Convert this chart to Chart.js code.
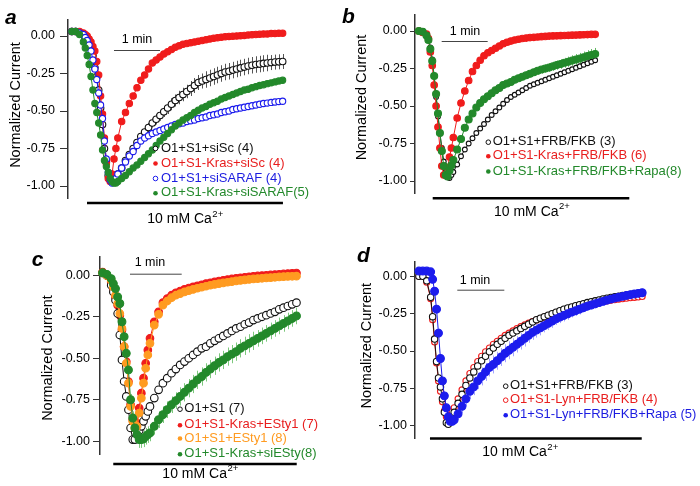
<!DOCTYPE html>
<html>
<head>
<meta charset="utf-8">
<script src="https://cdn.jsdelivr.net/npm/chart.js@4.4.0/dist/chart.umd.min.js"></script>
<style>
  body { margin: 0; background: #fff; }
  #wrap { position: relative; width: 700px; height: 486px; overflow: hidden; }
  #wrap canvas { position: absolute; left: 0; top: 0; }
</style>
</head>
<body>
<div id="wrap">
  <canvas id="pa" width="700" height="486"></canvas>
  <canvas id="pb" width="700" height="486"></canvas>
  <canvas id="pc" width="700" height="486"></canvas>
  <canvas id="pd" width="700" height="486"></canvas>
</div>
<script>
// ---- data (time in s, current normalized to peak) ----
const yTicks = [-1, -0.75, -0.5, -0.25, 0];

// panel a
const timeA = [5,10,15,20,22.5,25,27.5,30,32.5,35,37.5,40,42.5,45,47.5,50,52.5,55,57.5,60,62.5,65,70,75,80,85,90,95,100,105,110,115,120,125,130,135,140,145,150,155,160,165,170,175,180,185,190,195,200,205,210,215,220,225,230,235,240,245,250,255,260,265,270,275,280];
const aSiSc = [0.03,0.03,0.02,0.01,0.0,-0.02,-0.05,-0.08,-0.13,-0.21,-0.27,-0.36,-0.48,-0.59,-0.75,-0.84,-0.93,-0.96,-0.97,-0.96,-0.94,-0.92,-0.88,-0.83,-0.79,-0.75,-0.71,-0.67,-0.64,-0.61,-0.58,-0.555,-0.53,-0.505,-0.48,-0.455,-0.43,-0.41,-0.39,-0.37,-0.35,-0.33,-0.31,-0.30,-0.29,-0.28,-0.27,-0.26,-0.25,-0.24,-0.235,-0.227,-0.22,-0.213,-0.207,-0.20,-0.195,-0.19,-0.187,-0.183,-0.18,-0.177,-0.174,-0.172,-0.17];
const aSiScErr = [0.01,0.01,0.01,0.01,0.01,0.01,0.015,0.015,0.02,0.02,0.025,0.025,0.03,0.03,0.03,0.03,0.03,0.03,0.03,0.025,0.025,0.02,0.02,0.02,0.02,0.025,0.025,0.025,0.03,0.03,0.03,0.035,0.035,0.035,0.04,0.04,0.04,0.045,0.045,0.045,0.05,0.05,0.05,0.05,0.055,0.055,0.055,0.055,0.055,0.055,0.055,0.055,0.055,0.055,0.055,0.055,0.055,0.055,0.055,0.055,0.055,0.05,0.05,0.05,0.05];
const aKrasSiSc = [0.03,0.03,0.03,0.02,0.01,0.0,-0.02,-0.04,-0.07,-0.10,-0.17,-0.26,-0.40,-0.52,-0.68,-0.85,-0.95,-0.97,-0.92,-0.82,-0.75,-0.68,-0.57,-0.51,-0.45,-0.40,-0.345,-0.295,-0.26,-0.22,-0.18,-0.16,-0.14,-0.12,-0.105,-0.09,-0.075,-0.065,-0.055,-0.05,-0.045,-0.04,-0.035,-0.03,-0.025,-0.02,-0.015,-0.012,-0.008,-0.005,-0.003,-0.001,0.0,0.002,0.004,0.006,0.008,0.01,0.011,0.013,0.014,0.016,0.017,0.018,0.019];
const aSiSARAF = [0.03,0.03,0.02,0.01,-0.01,-0.03,-0.06,-0.10,-0.16,-0.22,-0.29,-0.38,-0.46,-0.55,-0.70,-0.82,-0.91,-0.96,-0.98,-0.97,-0.95,-0.92,-0.88,-0.84,-0.80,-0.77,-0.73,-0.70,-0.68,-0.665,-0.65,-0.64,-0.63,-0.62,-0.61,-0.60,-0.59,-0.585,-0.58,-0.57,-0.565,-0.56,-0.55,-0.545,-0.54,-0.53,-0.525,-0.52,-0.51,-0.505,-0.50,-0.49,-0.485,-0.48,-0.475,-0.47,-0.465,-0.46,-0.455,-0.45,-0.447,-0.443,-0.44,-0.437,-0.435];
const aKrasSiSARAF = [0.03,0.03,0.01,-0.04,-0.08,-0.13,-0.19,-0.27,-0.36,-0.45,-0.51,-0.58,-0.66,-0.76,-0.83,-0.87,-0.91,-0.95,-0.97,-0.98,-0.98,-0.97,-0.95,-0.93,-0.905,-0.88,-0.86,-0.835,-0.81,-0.785,-0.76,-0.73,-0.70,-0.675,-0.65,-0.625,-0.60,-0.58,-0.56,-0.545,-0.53,-0.51,-0.495,-0.48,-0.47,-0.455,-0.445,-0.435,-0.42,-0.41,-0.40,-0.39,-0.38,-0.37,-0.36,-0.355,-0.345,-0.338,-0.33,-0.325,-0.318,-0.312,-0.306,-0.30,-0.295];
const labelsA = ['O1+S1+siSc (4)', 'O1+S1-Kras+siSc (4)', 'O1+S1+siSARAF (4)', 'O1+S1-Kras+siSARAF(5)'];

// panel b
const timeB = [5,10,15,17.5,20,22.5,25,27.5,30,32.5,35,37.5,40,42.5,45,47.5,50,55,60,65,70,75,80,85,90,95,100,105,110,115,120,125,130,135,140,145,150,155,160,165,170,175,180,185,190,195,200,205,210,215,220,225,230,235];
const bFrbFkb = [0.0,0.0,-0.02,-0.05,-0.11,-0.19,-0.30,-0.44,-0.57,-0.68,-0.78,-0.87,-0.94,-0.97,-0.98,-0.96,-0.94,-0.89,-0.835,-0.79,-0.75,-0.715,-0.68,-0.65,-0.62,-0.59,-0.56,-0.535,-0.51,-0.485,-0.46,-0.44,-0.425,-0.41,-0.395,-0.38,-0.365,-0.355,-0.345,-0.335,-0.325,-0.315,-0.305,-0.295,-0.285,-0.275,-0.265,-0.255,-0.245,-0.235,-0.225,-0.215,-0.205,-0.195];
const bKrasFrbFkb = [0.0,-0.01,-0.02,-0.05,-0.14,-0.23,-0.36,-0.50,-0.64,-0.78,-0.90,-0.96,-0.96,-0.91,-0.84,-0.78,-0.71,-0.58,-0.48,-0.40,-0.33,-0.27,-0.23,-0.195,-0.165,-0.145,-0.13,-0.115,-0.10,-0.085,-0.075,-0.067,-0.06,-0.055,-0.05,-0.047,-0.044,-0.042,-0.04,-0.038,-0.036,-0.034,-0.033,-0.032,-0.031,-0.03,-0.029,-0.028,-0.027,-0.026,-0.025,-0.024,-0.023,-0.022];
const bKrasRapa = [0.0,-0.005,-0.03,-0.06,-0.12,-0.20,-0.30,-0.42,-0.55,-0.68,-0.80,-0.90,-0.96,-0.97,-0.93,-0.895,-0.86,-0.79,-0.72,-0.645,-0.59,-0.55,-0.51,-0.48,-0.455,-0.435,-0.415,-0.395,-0.38,-0.36,-0.35,-0.34,-0.325,-0.315,-0.305,-0.295,-0.285,-0.275,-0.265,-0.257,-0.25,-0.243,-0.235,-0.227,-0.22,-0.212,-0.205,-0.197,-0.19,-0.183,-0.175,-0.167,-0.16,-0.153];
const bKrasRapaErr = [0.01,0.01,0.01,0.01,0.015,0.015,0.02,0.02,0.02,0.025,0.025,0.025,0.025,0.02,0.02,0.02,0.02,0.02,0.02,0.02,0.02,0.02,0.02,0.02,0.02,0.02,0.02,0.02,0.02,0.02,0.02,0.02,0.022,0.022,0.024,0.024,0.025,0.025,0.026,0.027,0.028,0.029,0.03,0.031,0.032,0.033,0.034,0.035,0.036,0.037,0.038,0.039,0.04,0.04];
const labelsB = ['O1+S1+FRB/FKB (3)', 'O1+S1-Kras+FRB/FKB (6)', 'O1+S1-Kras+FRB/FKB+Rapa(8)'];

// panel c
const timeC = [3,8,13,15.5,18,20.5,23,25.5,28,30.5,33,35.5,38,40.5,43,45.5,48,50.5,53,55.5,58,63,68,73,78,83,88,93,98,103,108,113,118,123,128,133,138,143,148,153,158,163,168,173,178,183,188,193,198,203,208,213,218,223,228];
const cS1 = [0.015,0.0,-0.06,-0.10,-0.15,-0.23,-0.36,-0.51,-0.64,-0.73,-0.81,-0.92,-0.99,-0.99,-0.96,-0.935,-0.91,-0.88,-0.85,-0.82,-0.79,-0.74,-0.69,-0.65,-0.62,-0.59,-0.565,-0.54,-0.52,-0.50,-0.48,-0.46,-0.44,-0.43,-0.41,-0.395,-0.38,-0.365,-0.35,-0.335,-0.32,-0.31,-0.295,-0.285,-0.27,-0.26,-0.25,-0.24,-0.23,-0.22,-0.205,-0.195,-0.185,-0.175,-0.165];
const cKrasESty = [0.02,0.0,-0.04,-0.08,-0.13,-0.18,-0.24,-0.33,-0.43,-0.52,-0.64,-0.78,-0.87,-0.91,-0.89,-0.80,-0.71,-0.62,-0.53,-0.45,-0.38,-0.28,-0.22,-0.165,-0.14,-0.12,-0.105,-0.095,-0.085,-0.077,-0.07,-0.063,-0.057,-0.05,-0.045,-0.04,-0.035,-0.03,-0.026,-0.022,-0.018,-0.015,-0.012,-0.009,-0.006,-0.004,-0.002,0.0,0.002,0.004,0.006,0.008,0.01,0.012,0.014];
const cESty = [0.015,0.0,-0.03,-0.07,-0.12,-0.17,-0.23,-0.32,-0.43,-0.53,-0.65,-0.79,-0.88,-0.92,-0.91,-0.83,-0.74,-0.65,-0.56,-0.48,-0.41,-0.30,-0.235,-0.18,-0.155,-0.135,-0.12,-0.11,-0.10,-0.092,-0.085,-0.078,-0.072,-0.066,-0.06,-0.055,-0.05,-0.046,-0.042,-0.038,-0.034,-0.031,-0.028,-0.025,-0.022,-0.02,-0.018,-0.016,-0.014,-0.012,-0.01,-0.008,-0.007,-0.006,-0.005];
const cKrasSiESty = [0.015,0.005,-0.02,-0.05,-0.08,-0.13,-0.17,-0.28,-0.37,-0.47,-0.57,-0.75,-0.86,-0.92,-0.96,-0.99,-0.99,-0.985,-0.97,-0.96,-0.95,-0.91,-0.87,-0.84,-0.81,-0.78,-0.755,-0.73,-0.705,-0.68,-0.655,-0.63,-0.61,-0.585,-0.565,-0.545,-0.525,-0.51,-0.49,-0.475,-0.46,-0.44,-0.425,-0.41,-0.395,-0.38,-0.365,-0.35,-0.335,-0.32,-0.305,-0.29,-0.275,-0.26,-0.245];
const cKrasSiEStyErr = [0.02,0.02,0.02,0.02,0.02,0.02,0.02,0.025,0.025,0.03,0.03,0.035,0.04,0.045,0.05,0.05,0.05,0.05,0.05,0.05,0.05,0.05,0.05,0.05,0.05,0.05,0.05,0.055,0.055,0.055,0.055,0.055,0.055,0.055,0.055,0.055,0.055,0.055,0.055,0.055,0.055,0.055,0.055,0.055,0.055,0.05,0.05,0.05,0.05,0.05,0.05,0.05,0.05,0.05,0.05];
const labelsC = ['O1+S1 (7)', 'O1+S1-Kras+ESty1 (7)', 'O1+S1+ESty1 (8)', 'O1+S1-Kras+siESty(8)'];

// panel d
const timeD = [5,10,15,20,22.5,25,27.5,30,32.5,35,37.5,40,42.5,45,47.5,50,55,60,65,70,75,80,85,90,95,100,105,110,115,120,125,130,135,140,145,150,155,160,165,170,175,180,185,190,195,200,205,210,215,220,225,230,235,240,245,250,255,260,265,270,275,280,285,290];
const dFrbFkb = [0.0,0.0,-0.03,-0.14,-0.27,-0.42,-0.57,-0.68,-0.74,-0.82,-0.91,-0.98,-0.99,-0.97,-0.94,-0.91,-0.85,-0.79,-0.73,-0.68,-0.64,-0.60,-0.565,-0.535,-0.505,-0.48,-0.455,-0.435,-0.415,-0.395,-0.38,-0.365,-0.35,-0.335,-0.32,-0.305,-0.29,-0.28,-0.27,-0.26,-0.25,-0.24,-0.23,-0.22,-0.212,-0.205,-0.197,-0.19,-0.183,-0.176,-0.17,-0.164,-0.158,-0.152,-0.147,-0.142,-0.137,-0.133,-0.129,-0.125,-0.121,-0.117,-0.114,-0.111];
const dLynFrbFkb = [0.0,0.0,-0.04,-0.15,-0.29,-0.44,-0.58,-0.70,-0.77,-0.84,-0.90,-0.94,-0.94,-0.93,-0.905,-0.88,-0.82,-0.76,-0.70,-0.65,-0.61,-0.57,-0.535,-0.505,-0.48,-0.455,-0.435,-0.415,-0.395,-0.38,-0.365,-0.35,-0.337,-0.325,-0.313,-0.302,-0.292,-0.282,-0.272,-0.263,-0.254,-0.245,-0.237,-0.229,-0.222,-0.215,-0.208,-0.202,-0.196,-0.19,-0.184,-0.179,-0.174,-0.169,-0.165,-0.161,-0.157,-0.153,-0.15,-0.147,-0.144,-0.141,-0.138,-0.135];
const dLynRapa = [0.035,0.035,0.035,0.03,-0.02,-0.10,-0.22,-0.38,-0.55,-0.70,-0.80,-0.88,-0.94,-0.97,-0.97,-0.96,-0.92,-0.87,-0.82,-0.77,-0.74,-0.70,-0.67,-0.64,-0.61,-0.59,-0.565,-0.54,-0.515,-0.495,-0.475,-0.455,-0.435,-0.415,-0.395,-0.375,-0.36,-0.345,-0.33,-0.315,-0.30,-0.285,-0.273,-0.262,-0.251,-0.24,-0.23,-0.22,-0.21,-0.20,-0.192,-0.184,-0.176,-0.168,-0.16,-0.153,-0.146,-0.14,-0.134,-0.128,-0.123,-0.118,-0.114,-0.11];
const dLynRapaErr = [0.01,0.01,0.01,0.01,0.02,0.02,0.02,0.03,0.03,0.03,0.03,0.03,0.03,0.03,0.03,0.035,0.04,0.045,0.05,0.05,0.055,0.055,0.06,0.06,0.06,0.06,0.06,0.06,0.06,0.06,0.06,0.055,0.055,0.055,0.05,0.05,0.05,0.05,0.045,0.045,0.045,0.04,0.04,0.04,0.04,0.035,0.035,0.035,0.03,0.03,0.03,0.03,0.025,0.025,0.025,0.025,0.02,0.02,0.02,0.02,0.02,0.02,0.02,0.02];
const labelsD = ['O1+S1+FRB/FKB (3)', 'O1+S1-Lyn+FRB/FKB (4)', 'O1+S1-Lyn+FRB/FKB+Rapa (5)'];

// ---- styles ----
const FONT = '"Liberation Sans", Arial, sans-serif';
const BLACK = '#111111', RED = '#f01c1c', BLUE = '#1c1ced', GREEN = '#23892b', ORANGE = '#ff9b21';

function series(time, vals, color, filled, r, order, err, errColor) {
  return {
    data: time.map((t, i) => ({ x: t, y: vals[i] })),
    borderColor: color,
    borderWidth: 1,
    pointRadius: r,
    pointBorderColor: color,
    pointBorderWidth: 1.1,
    pointBackgroundColor: filled ? color : '#ffffff',
    tension: 0,
    clip: false,
    order: order,
    err: err,
    errColor: errColor
  };
}

// SEM bars, drawn under the markers
const errBars = {
  id: 'errBars',
  beforeDatasetsDraw(chart) {
    const ctx = chart.ctx, xs = chart.scales.x, ys = chart.scales.y;
    ctx.save();
    ctx.lineWidth = 1;
    chart.data.datasets.forEach(ds => {
      if (!ds.err) return;
      ctx.strokeStyle = ds.errColor;
      ctx.beginPath();
      ds.data.forEach((p, i) => {
        const x = Math.round(xs.getPixelForValue(p.x)) + 0.5;
        ctx.moveTo(x, ys.getPixelForValue(p.y + ds.err[i]));
        ctx.lineTo(x, ys.getPixelForValue(p.y - ds.err[i]));
      });
      ctx.stroke();
    });
    ctx.restore();
  }
};

// annotations: panel letter, y title, 1 min bar, Ca2+ bar, legend
const deco = {
  id: 'deco',
  afterDraw(chart, args, o) {
    const ctx = chart.ctx, xs = chart.scales.x;
    ctx.save();
    ctx.fillStyle = '#000';
    ctx.textAlign = 'left';
    ctx.textBaseline = 'alphabetic';
    ctx.font = 'italic bold 21px ' + FONT;
    ctx.fillText(o.letter[0], o.letter[1], o.letter[2]);

    ctx.save();
    ctx.translate(o.title[0], o.title[1]);
    ctx.rotate(-Math.PI / 2);
    ctx.font = '14.5px ' + FONT;
    ctx.textAlign = 'center';
    ctx.textBaseline = 'middle';
    ctx.fillText('Normalized Current', 0, 0);
    ctx.restore();

    // 1 min scale bar
    ctx.strokeStyle = '#444';
    ctx.lineWidth = 1;
    ctx.beginPath();
    ctx.moveTo(xs.getPixelForValue(o.minBar[0]), o.minBar[2] + 0.5);
    ctx.lineTo(xs.getPixelForValue(o.minBar[1]), o.minBar[2] + 0.5);
    ctx.stroke();
    ctx.font = '12.5px ' + FONT;
    ctx.textAlign = 'center';
    ctx.textBaseline = 'middle';
    ctx.fillText('1 min', xs.getPixelForValue(o.minBar[3]), o.minBar[4]);

    // Ca2+ application bar
    ctx.strokeStyle = '#000';
    ctx.lineWidth = 2.5;
    ctx.beginPath();
    ctx.moveTo(xs.getPixelForValue(o.ca[0]), o.ca[2]);
    ctx.lineTo(xs.getPixelForValue(o.ca[1]), o.ca[2]);
    ctx.stroke();
    ctx.font = '14px ' + FONT;
    const main = '10 mM Ca';
    const wMain = ctx.measureText(main).width;
    ctx.font = '9.5px ' + FONT;
    const wSup = ctx.measureText('2+').width;
    const x0 = xs.getPixelForValue(o.ca[3]) - (wMain + wSup) / 2;
    ctx.textAlign = 'left';
    ctx.font = '14px ' + FONT;
    ctx.fillText(main, x0, o.ca[4]);
    ctx.font = '9.5px ' + FONT;
    ctx.fillText('2+', x0 + wMain + 0.5, o.ca[4] - 5);

    // legend
    ctx.font = '13px ' + FONT;
    ctx.textBaseline = 'middle';
    o.legend.rows.forEach((y, i) => {
      const it = o.legend.items[i];
      ctx.beginPath();
      ctx.arc(o.legend.mx, y + 0.5, 2.3, 0, Math.PI * 2);
      if (it.filled) {
        ctx.fillStyle = it.color;
        ctx.fill();
      } else {
        ctx.fillStyle = '#fff';
        ctx.fill();
        ctx.strokeStyle = it.color;
        ctx.lineWidth = 1;
        ctx.stroke();
      }
      ctx.fillStyle = it.text;
      ctx.fillText(it.label, o.legend.tx, y);
    });
    ctx.restore();
  }
};

function makePanel(id, p) {
  new Chart(document.getElementById(id), {
    type: 'line',
    data: { datasets: p.datasets },
    options: {
      responsive: false,
      animation: false,
      devicePixelRatio: 1,
      events: [],
      layout: { padding: p.padding },
      scales: {
        x: { type: 'linear', display: false, min: 0, max: p.xMax },
        y: {
          min: p.yMin,
          max: p.yMax,
          afterFit: s => { s.width = p.axisX; },
          afterBuildTicks: s => { s.ticks = yTicks.map(v => ({ value: v })); },
          border: { display: true, color: '#333', width: 1.5 },
          grid: { display: true, drawOnChartArea: false, drawTicks: true, tickLength: p.tickLen, color: '#333', lineWidth: 1 },
          ticks: { padding: p.tickPad, color: '#000', font: { family: FONT, size: 12.5 }, callback: v => v.toFixed(2) }
        }
      },
      plugins: { legend: { display: false }, tooltip: { enabled: false }, deco: p.deco }
    },
    plugins: [errBars, deco]
  });
}

makePanel('pa', {
  axisX: 68, padding: { left: 0, top: 20, right: 410, bottom: 288 },
  xMax: 289.6, yMin: -1.08, yMax: 0.1067, tickLen: 8, tickPad: 5,
  datasets: [
    series(timeA, aSiSc, BLACK, false, 3.3, 4, aSiScErr, '#555'),
    series(timeA, aKrasSiSc, RED, true, 3.2, 3),
    series(timeA, aSiSARAF, BLUE, false, 3.1, 2),
    series(timeA, aKrasSiSARAF, GREEN, true, 3.1, 1)
  ],
  deco: {
    letter: ['a', 5, 23.5], title: [15.7, 105],
    minBar: [60, 120, 50, 90, 40], ca: [24.8, 280.4, 203, 152.6, 219],
    legend: { mx: 155.5, tx: 161, rows: [148, 163, 178, 192.7], items: [
      { label: labelsA[0], color: BLACK, text: '#111', filled: false },
      { label: labelsA[1], color: RED, text: '#e81e1e', filled: true },
      { label: labelsA[2], color: BLUE, text: '#1c1ce0', filled: false },
      { label: labelsA[3], color: GREEN, text: '#23892b', filled: true }
    ] }
  }
});

makePanel('pb', {
  axisX: 415, padding: { left: 0, top: 15, right: 100, bottom: 293 },
  xMax: 241.3, yMin: -1.08, yMax: 0.1067, tickLen: 5, tickPad: 3,
  datasets: [
    series(timeB, bFrbFkb, BLACK, false, 2.4, 3),
    series(timeB, bKrasFrbFkb, RED, true, 3.3, 2),
    series(timeB, bKrasRapa, GREEN, true, 3.5, 1, bKrasRapaErr, '#62b862')
  ],
  deco: {
    letter: ['b', 342, 23.3], title: [361.7, 97.5],
    minBar: [34.8, 94.8, 41, 65.2, 32], ca: [23.1, 279.5, 198.3, 152.2, 211.7],
    legend: { mx: 488.3, tx: 492.7, rows: [141.7, 155.7, 171], items: [
      { label: labelsB[0], color: BLACK, text: '#111', filled: false },
      { label: labelsB[1], color: RED, text: '#e81e1e', filled: true },
      { label: labelsB[2], color: GREEN, text: '#23892b', filled: true }
    ] }
  }
});

makePanel('pc', {
  axisX: 100, padding: { left: 0, top: 256.3, right: 400, bottom: 31.3 },
  xMax: 232.1, yMin: -1.081, yMax: 0.1145, tickLen: 7, tickPad: 3,
  datasets: [
    series(timeC, cS1, BLACK, false, 3.8, 3),
    series(timeC, cKrasESty, RED, true, 3.8, 4),
    series(timeC, cESty, ORANGE, true, 3.8, 2),
    series(timeC, cKrasSiESty, GREEN, true, 3.9, 1, cKrasSiEStyErr, '#7cc87c')
  ],
  deco: {
    letter: ['c', 31.7, 265.7], title: [47.5, 358],
    minBar: [34.8, 94.8, 273.7, 58, 263], ca: [15.4, 228.3, 464, 116.1, 473.7],
    legend: { mx: 180, tx: 184.3, rows: [408.7, 424.7, 438, 453.7], items: [
      { label: labelsC[0], color: BLACK, text: '#111', filled: false },
      { label: labelsC[1], color: RED, text: '#e81e1e', filled: true },
      { label: labelsC[2], color: ORANGE, text: '#ff9b21', filled: true },
      { label: labelsC[3], color: GREEN, text: '#23892b', filled: true }
    ] }
  }
});

makePanel('pd', {
  axisX: 415, padding: { left: 0, top: 261.3, right: 52, bottom: 48 },
  xMax: 297.4, yMin: -1.082, yMax: 0.1004, tickLen: 5, tickPad: 3,
  datasets: [
    series(timeD, dFrbFkb, BLACK, false, 3.2, 2),
    series(timeD, dLynFrbFkb, RED, false, 3.0, 3),
    series(timeD, dLynRapa, BLUE, true, 3.9, 1, dLynRapaErr, '#a3a3ff')
  ],
  deco: {
    letter: ['d', 357, 261.7], title: [366.7, 345.7],
    minBar: [54, 114, 289.7, 76.6, 280.7], ca: [19.1, 289.4, 438.5, 134, 452],
    legend: { mx: 505.7, tx: 510, rows: [385.7, 399.7, 414.7], items: [
      { label: labelsD[0], color: BLACK, text: '#111', filled: false },
      { label: labelsD[1], color: RED, text: '#e81e1e', filled: false },
      { label: labelsD[2], color: BLUE, text: '#1c1ce0', filled: true }
    ] }
  }
});
</script>
</body>
</html>
